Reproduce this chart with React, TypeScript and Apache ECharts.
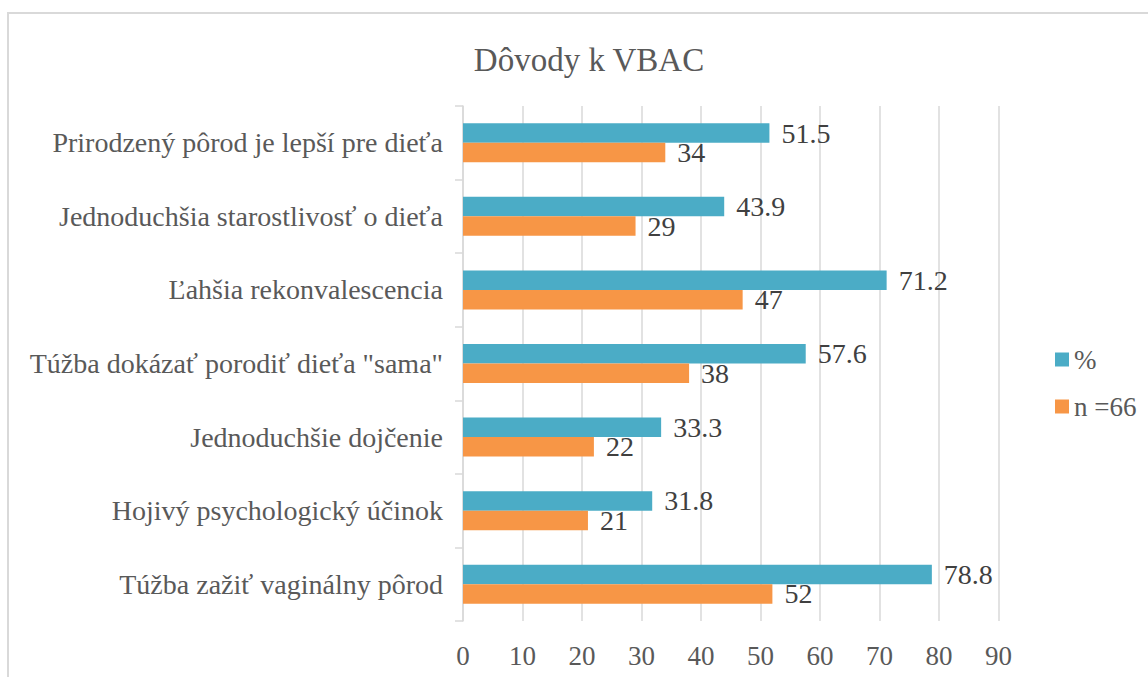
import React, { useEffect, useRef } from "react";
import * as echarts from "echarts";

const categories = [
  "Túžba zažiť vaginálny pôrod",
  "Hojivý psychologický účinok",
  "Jednoduchšie dojčenie",
  'Túžba dokázať porodiť dieťa "sama"',
  "Ľahšia rekonvalescencia",
  "Jednoduchšia starostlivosť o dieťa",
  "Prirodzený pôrod je lepší pre dieťa",
];
const percentValues = [78.8, 31.8, 33.3, 57.6, 71.2, 43.9, 51.5];
const countValues = [52, 21, 22, 38, 47, 29, 34];
const seriesNames = ["%", "n =66"];
const xTicks = { min: 0, max: 90, interval: 10 };

const FONT = "Liberation Serif";

export default function App() {
  const ref = useRef<HTMLDivElement>(null);
  useEffect(() => {
    if (!ref.current) return;
    const chart = echarts.init(ref.current, null, { renderer: "svg" });
    const labelStyle = {
      show: true,
      position: "right" as const,
      distance: 12,
      fontSize: 28,
      color: "#404040",
      fontFamily: FONT,
    };
    chart.setOption({
      animation: false,
      backgroundColor: "#ffffff",
      textStyle: { fontFamily: FONT },
      title: {
        text: "Dôvody k VBAC",
        left: 584,
        top: 38,
        textAlign: "center",
        textStyle: { fontSize: 33, fontWeight: "normal", color: "#595959", fontFamily: FONT },
      },
      graphic: [
        {
          type: "rect",
          shape: { x: 8, y: 13, width: 1200, height: 700 },
          style: { fill: "none", stroke: "#d9d9d9", lineWidth: 2 },
          silent: true,
        },
      ],
      legend: {
        data: seriesNames,
        orient: "vertical",
        left: 1050,
        top: 341,
        itemWidth: 14,
        itemHeight: 14,
        itemGap: 20,
        icon: "rect",
        textStyle: { fontSize: 27, color: "#595959", fontFamily: FONT },
      },
      grid: { left: 463, right: 149.5, top: 106, bottom: 56, containLabel: false },
      xAxis: {
        type: "value",
        min: xTicks.min,
        max: xTicks.max,
        interval: xTicks.interval,
        axisLine: { show: false },
        axisTick: { show: false },
        axisLabel: { fontSize: 27, color: "#595959", margin: 21, fontFamily: FONT },
        splitLine: { show: true, lineStyle: { color: "#d9d9d9", width: 1.5 } },
      },
      yAxis: {
        type: "category",
        data: categories,
        axisLine: { show: true, lineStyle: { color: "#d9d9d9", width: 1.5 } },
        axisTick: { show: true, length: 8, lineStyle: { color: "#d9d9d9", width: 1.5 } },
        axisLabel: { fontSize: 28, color: "#595959", margin: 20, fontFamily: FONT },
      },
      series: [
        {
          name: "%",
          type: "bar",
          data: percentValues,
          barWidth: 19.5,
          barGap: "0%",
          itemStyle: { color: "#4bacc6" },
          label: labelStyle,
        },
        {
          name: "n =66",
          type: "bar",
          data: countValues,
          barWidth: 19.5,
          barGap: "0%",
          itemStyle: { color: "#f79646" },
          label: labelStyle,
        },
      ],
    });
    return () => chart.dispose();
  }, []);
  return (
    <div
      ref={ref}
      style={{ position: "fixed", left: 0, top: 0, width: 1148, height: 677 }}
    />
  );
}
